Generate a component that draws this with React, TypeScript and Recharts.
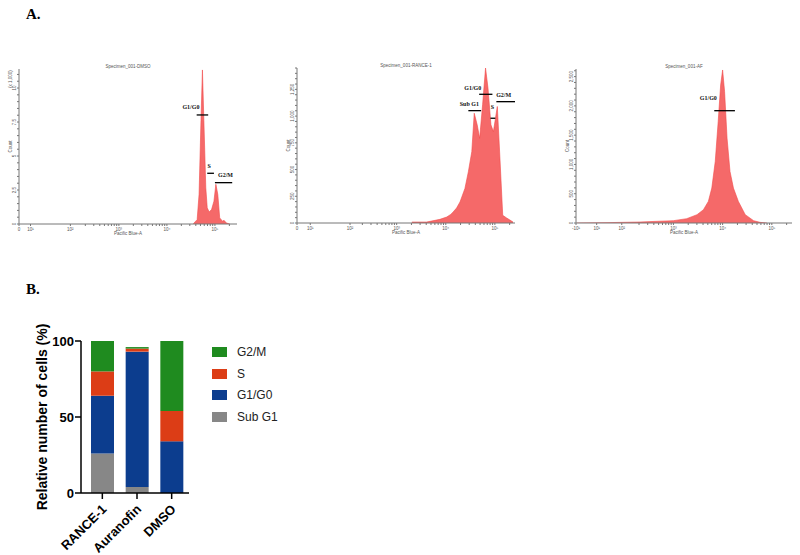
import React from "react"
import {
  AreaChart,
  Area,
  BarChart,
  Bar,
  XAxis,
  YAxis,
  ReferenceLine,
  ReferenceDot,
} from "recharts"

// ---- Panel A: cell cycle histograms (x = decade position on Pacific Blue-A, y = count)
const dmsoPos = [4.55, 4.63, 4.67, 4.71, 4.74, 4.77, 4.81, 4.84, 4.88, 4.93, 4.98, 5.02, 5.06, 5.1, 5.16, 5.19, 5.24, 5.31]
const dmsoCount = [0.02, 0.32, 2.18, 7.62, 11.33, 7.62, 2.67, 1.19, 0.89, 1.06, 1.68, 2.92, 2.18, 0.45, 0.2, 0.27, 0.07, 0]

const rancePos = [3.31, 3.61, 3.88, 4.02, 4.1, 4.15, 4.22, 4.29, 4.39, 4.46, 4.53, 4.58, 4.64, 4.69, 4.75, 4.81, 4.86, 4.92, 4.97, 5.05, 5.1, 5.16, 5.24, 5.37]
const ranceCount = [9, 9, 34, 56, 80, 103, 140, 197, 323, 479, 667, 1027, 918, 792, 1106, 1450, 1262, 918, 855, 1090, 636, 72, 47, 9]

const afPos = [1.04, 1.65, 2.32, 3.0, 3.27, 3.48, 3.61, 3.71, 3.78, 3.85, 3.91, 3.96, 4.0, 4.04, 4.09, 4.15, 4.22, 4.32, 4.46, 4.63, 4.76, 4.9]
const afCount = [0, 6, 17, 40, 74, 142, 227, 369, 596, 1051, 1733, 2357, 2613, 2244, 1449, 880, 596, 369, 142, 40, 11, 0]

const decadeLabels = ["0", "10¹", "10²", "10³", "10⁴", "10⁵"]
const afDecadeLabels = ["-10¹", "10¹", "10²", "10³", "10⁴", "10⁵"]

// ---- Panel B: stacked percentages
const groups = ["RANCE-1", "Auranofin", "DMSO"]
const subG1 = [26, 4, 0]
const g1g0 = [38, 89, 34]
const sPhase = [16, 2, 20]
const g2m = [20, 1, 46]

const phases = [
  { key: "subG1", name: "Sub G1", color: "#878787", values: subG1 },
  { key: "g1g0", name: "G1/G0", color: "#0c3d8e", values: g1g0 },
  { key: "s", name: "S", color: "#dc3d16", values: sPhase },
  { key: "g2m", name: "G2/M", color: "#1f8b1f", values: g2m },
]

const barRows = groups.map((g, i) => {
  const row: Record<string, string | number> = { group: g }
  phases.forEach((p) => (row[p.key] = p.values[i]))
  return row
})

type Gate = { label: string; x1: number; x2: number; y: number; tx: number; ty: number }

type HistSpec = {
  title: string
  left: number
  top: number
  margin: { top: number; right: number; bottom: number; left: number }
  pos: number[]
  counts: number[]
  xDomain: [number, number]
  xTicks: number[]
  xLabels: string[]
  yMax: number
  yMajor: number[]
  yLabels: string[]
  yStep: number
  unit?: string
  gates: Gate[]
}

const minorDecades = (lo: number, hi: number) => {
  const out: number[] = []
  for (let n = 2; n <= 5; n++)
    for (let k = 2; k <= 9; k++) {
      const v = n + Math.log10(k)
      if (v > lo && v < hi) out.push(v)
    }
  return out
}

const histograms: HistSpec[] = [
  {
    title: "Specimen_001-DMSO",
    left: 0,
    top: 55,
    margin: { top: 14, right: 23, bottom: 9, left: 7 },
    pos: dmsoPos,
    counts: dmsoCount,
    xDomain: [0.92, 5.46],
    xTicks: [0.92, 1.16, 1.99, 3, 4, 5],
    xLabels: decadeLabels,
    yMax: 11.4,
    yMajor: [0, 2.5, 5, 7.5, 10],
    yLabels: ["0", "2.5", "5", "7.5", "10"],
    yStep: 0.5,
    unit: "(x 1,000)",
    gates: [
      { label: "G1/G0", x1: 4.62, x2: 4.86, y: 8.02, tx: 4.5, ty: 8.6 },
      { label: "S", x1: 4.84, x2: 4.98, y: 3.73, tx: 4.88, ty: 4.3 },
      { label: "G2/M", x1: 5.0, x2: 5.36, y: 3.04, tx: 5.22, ty: 3.6 },
    ],
  },
  {
    title: "Specimen_001-RANCE-1",
    left: 280,
    top: 55,
    margin: { top: 13, right: 25, bottom: 10, left: 5 },
    pos: rancePos,
    counts: ranceCount,
    xDomain: [0.97, 5.41],
    xTicks: [0.97, 1.24, 2.05, 3, 4, 5],
    xLabels: decadeLabels,
    yMax: 1450,
    yMajor: [0, 250, 500, 750, 1000, 1250],
    yLabels: ["0", "250", "500", "750", "1,000", "1,250"],
    yStep: 50,
    gates: [
      { label: "G1/G0", x1: 4.68, x2: 4.95, y: 1204, tx: 4.55, ty: 1265 },
      { label: "Sub G1", x1: 4.46, x2: 4.72, y: 1051, tx: 4.48, ty: 1110 },
      { label: "S", x1: 4.91, x2: 5.01, y: 980, tx: 4.95, ty: 1090 },
      { label: "G2/M", x1: 5.03, x2: 5.41, y: 1135, tx: 5.18, ty: 1200 },
    ],
  },
  {
    title: "Specimen_001-AF",
    left: 540,
    top: 55,
    margin: { top: 14, right: 8, bottom: 10, left: 24 },
    pos: afPos,
    counts: afCount,
    xDomain: [1.02, 5.41],
    xTicks: [1.02, 1.44, 1.95, 3, 4, 5],
    xLabels: afDecadeLabels,
    yMax: 2630,
    yMajor: [0, 500, 1000, 1500, 2000, 2500],
    yLabels: ["0", "500", "1,000", "1,500", "2,000", "2,500"],
    yStep: 100,
    gates: [{ label: "G1/G0", x1: 3.83, x2: 4.25, y: 1918, tx: 3.71, ty: 2140 }],
  },
]

const HW = 260
const HH = 190
const Y_W = 12
const X_H = 12
const tiny = { fontSize: 4.5, fill: "#555", fontFamily: "Liberation Sans, Arial, sans-serif" }

function Histogram({ spec }: { spec: HistSpec }) {
  const rows = spec.pos.map((p, i) => ({ pos: p, count: spec.counts[i] }))
  const xMap = new Map(spec.xTicks.map((t, i) => [t, spec.xLabels[i]]))
  const yMap = new Map(spec.yMajor.map((t, i) => [t, spec.yLabels[i]]))
  const xAll = [...spec.xTicks, ...minorDecades(spec.xDomain[0], spec.xDomain[1])].sort((a, b) => a - b)
  const yAll: number[] = []
  for (let v = 0; v <= spec.yMax + 1e-9; v += spec.yStep) yAll.push(Math.round(v * 100) / 100)

  const m = spec.margin
  const plotL = m.left + Y_W
  const plotR = HW - m.right
  const plotT = m.top
  const plotB = HH - m.bottom - X_H
  const cx = (plotL + plotR) / 2
  const cy = (plotT + plotB) / 2

  const XTick = (p: any) => {
    const t = xMap.get(p.payload.value)
    return t ? (
      <text x={p.x} y={p.y} dy={3.5} textAnchor="middle" {...tiny}>
        {t}
      </text>
    ) : (
      <g />
    )
  }
  const YTick = (p: any) => {
    const t = yMap.get(p.payload.value)
    return t ? (
      <text x={p.x} y={p.y} textAnchor="middle" transform={`rotate(-90 ${p.x} ${p.y})`} {...tiny}>
        {t}
      </text>
    ) : (
      <g />
    )
  }

  return (
    <div style={{ position: "absolute", left: spec.left, top: spec.top, width: HW, height: HH }}>
      <AreaChart width={HW} height={HH} data={rows} margin={m}>
        <XAxis
          type="number"
          dataKey="pos"
          domain={spec.xDomain}
          ticks={xAll}
          interval={0}
          allowDataOverflow
          height={X_H}
          tickSize={2}
          tickMargin={1}
          tick={XTick}
          stroke="#777"
        />
        <XAxis xAxisId="top" orientation="top" type="number" domain={spec.xDomain} height={0} tick={false} tickLine={false} stroke="#999" />
        <YAxis
          type="number"
          domain={[0, spec.yMax]}
          ticks={yAll}
          interval={0}
          allowDataOverflow
          width={Y_W}
          tickSize={2}
          tickMargin={1}
          tick={YTick}
          stroke="#777"
        />
        <YAxis yAxisId="right" orientation="right" type="number" domain={[0, spec.yMax]} width={0} tick={false} tickLine={false} stroke="#999" />
        <Area
          type="linear"
          dataKey="count"
          stroke="#f24a4a"
          strokeWidth={0.6}
          fill="#f56969"
          fillOpacity={1}
          isAnimationActive={false}
        />
        {spec.gates.map((g) => (
          <ReferenceLine
            key={g.label}
            segment={[{ x: g.x1, y: g.y }, { x: g.x2, y: g.y }]}
            stroke="#000"
            strokeWidth={1.3}
            ifOverflow="visible"
          />
        ))}
        {spec.gates.map((g) => (
          <ReferenceDot
            key={g.label + "-t"}
            x={g.tx}
            y={g.ty}
            r={0}
            fill="none"
            stroke="none"
            ifOverflow="visible"
            label={{
              value: g.label,
              position: "center",
              fontSize: 6,
              fontWeight: "bold",
              fontFamily: "Liberation Serif, serif",
              fill: "#111",
            }}
          />
        ))}
      </AreaChart>
      <svg width={HW} height={HH} style={{ position: "absolute", left: 0, top: 0, pointerEvents: "none" }}>
        <text x={cx} y={plotT - 1.5} textAnchor="middle" {...tiny}>
          {spec.title}
        </text>
        <text x={cx} y={plotB + 11} textAnchor="middle" {...tiny}>
          Pacific Blue-A
        </text>
        <text x={plotL - 7} y={cy} textAnchor="middle" transform={`rotate(-90 ${plotL - 7} ${cy})`} {...tiny}>
          Count
        </text>
        {spec.unit && (
          <text x={plotL - 7} y={plotT + 10} textAnchor="middle" transform={`rotate(-90 ${plotL - 7} ${plotT + 10})`} {...tiny}>
            {spec.unit}
          </text>
        )}
      </svg>
    </div>
  )
}

function GroupTick({ x, y, payload }: any) {
  return (
    <g transform={`translate(${x + 5},${y + 9})`}>
      <text textAnchor="end" transform="rotate(-45)" fontSize={13} fontWeight="bold" fill="#000">
        {payload.value}
      </text>
    </g>
  )
}

const panelLetter: React.CSSProperties = {
  position: "absolute",
  left: 26,
  fontFamily: "Liberation Serif, Times New Roman, serif",
  fontWeight: "bold",
  fontSize: 15,
  lineHeight: "15px",
}

export default function App() {
  return (
    <div
      style={{
        position: "absolute",
        left: 0,
        top: 0,
        width: 800,
        height: 555,
        background: "#fff",
        fontFamily: "Liberation Sans, Arial, sans-serif",
        overflow: "hidden",
      }}
    >
      <div style={{ ...panelLetter, top: 7 }}>A.</div>
      <div style={{ ...panelLetter, top: 282 }}>B.</div>

      {histograms.map((h) => (
        <Histogram key={h.title} spec={h} />
      ))}

      <div style={{ position: "absolute", left: 0, top: 320, width: 300, height: 235 }}>
        <BarChart width={300} height={235} data={barRows} margin={{ top: 21, right: 111, bottom: 2, left: 31 }}>
          <XAxis
            dataKey="group"
            height={60}
            padding={{ left: 4, right: 0 }}
            tick={<GroupTick />}
            interval={0}
            tickSize={6}
            stroke="#000"
            strokeWidth={1.5}
          />
          <YAxis
            domain={[0, 100]}
            ticks={[0, 50, 100]}
            width={50}
            tickSize={6}
            tickMargin={1}
            stroke="#000"
            strokeWidth={1.5}
            tick={{ fontSize: 13, fontWeight: "bold", fill: "#000" }}
            label={{
              value: "Relative number of cells (%)",
              angle: -90,
              position: "insideLeft",
              offset: 11,
              fontSize: 14,
              fontWeight: "bold",
              fill: "#000",
              style: { textAnchor: "middle" },
            }}
          />
          {phases.map((p) => (
            <Bar key={p.key} dataKey={p.key} name={p.name} stackId="cycle" fill={p.color} barSize={23} isAnimationActive={false} />
          ))}
        </BarChart>
        {[...phases].reverse().map((p, i) => (
          <div key={p.key} style={{ position: "absolute", left: 212, top: 27 + i * 21.7, height: 10, display: "flex", alignItems: "center" }}>
            <div style={{ width: 15, height: 10, background: p.color }} />
            <span style={{ marginLeft: 10, fontSize: 12, color: "#222", whiteSpace: "nowrap" }}>{p.name}</span>
          </div>
        ))}
      </div>
    </div>
  )
}
